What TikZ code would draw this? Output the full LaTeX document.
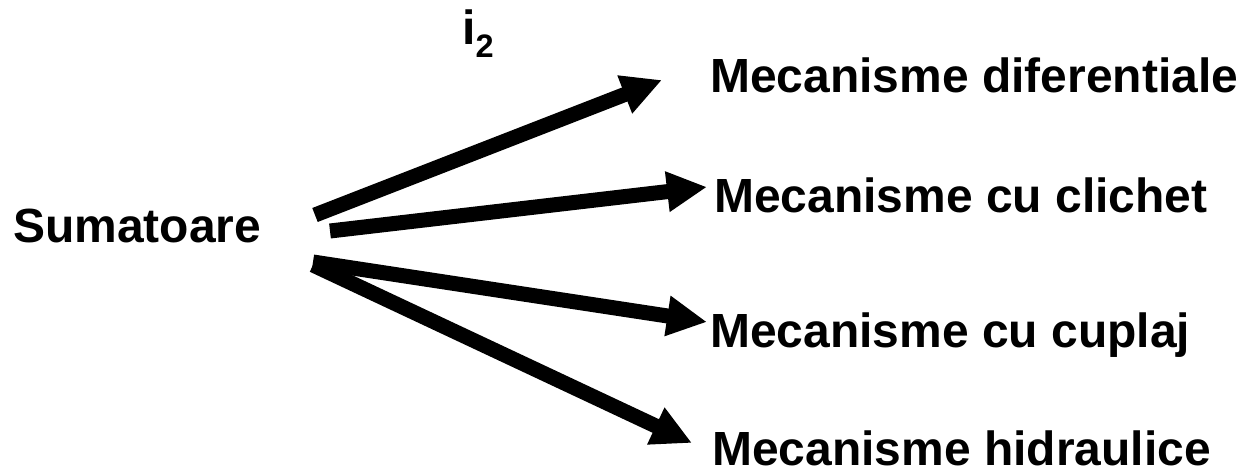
\documentclass[tikz,border=0pt]{standalone}
\usepackage{fontspec}
\setmainfont{Liberation Sans}
\usetikzlibrary{arrows.meta}
\tikzset{
  label text/.style={anchor=base west, inner sep=0pt, font=\fontsize{27.3}{32}\selectfont\bfseries},
  fat arrow/.style={line width=0.3cm, -{Triangle[length=0.8cm,width=0.76cm]}}
}
\begin{document}
\begin{tikzpicture}[x=0.02cm, y=-0.02cm]
\useasboundingbox (0,0) rectangle (1245,472);
\node [label text] (sum) at (13,243) {Sumatoare};
\node [label text] (i2) at (462,45) {i\raisebox{-0.26cm}{\fontsize{18.5}{20}\selectfont 2}};
\node [label text] (dif) at (710,93) {Mecanisme diferentiale};
\node [label text] (cli) at (714,213) {Mecanisme cu clichet};
\node [label text] (cup) at (710,348) {Mecanisme cu cuplaj};
\node [label text] (hid) at (712,466) {Mecanisme hidraulice};
% start and end of the arrows
\coordinate (s1) at (315,215);
\coordinate (s2) at (330,231);
\coordinate (s3) at (313,262);
\coordinate (s4) at (313,265);
\coordinate (t1) at (662,80);
\coordinate (t2) at (707,187);
\coordinate (t3) at (707,322);
\coordinate (t4) at (692,443);
\draw [fat arrow] (s1) -- (t1);
\draw [fat arrow] (s2) -- (t2);
\draw [fat arrow] (s3) -- (t3);
\draw [fat arrow] (s4) -- (t4);
\end{tikzpicture}
\end{document}
